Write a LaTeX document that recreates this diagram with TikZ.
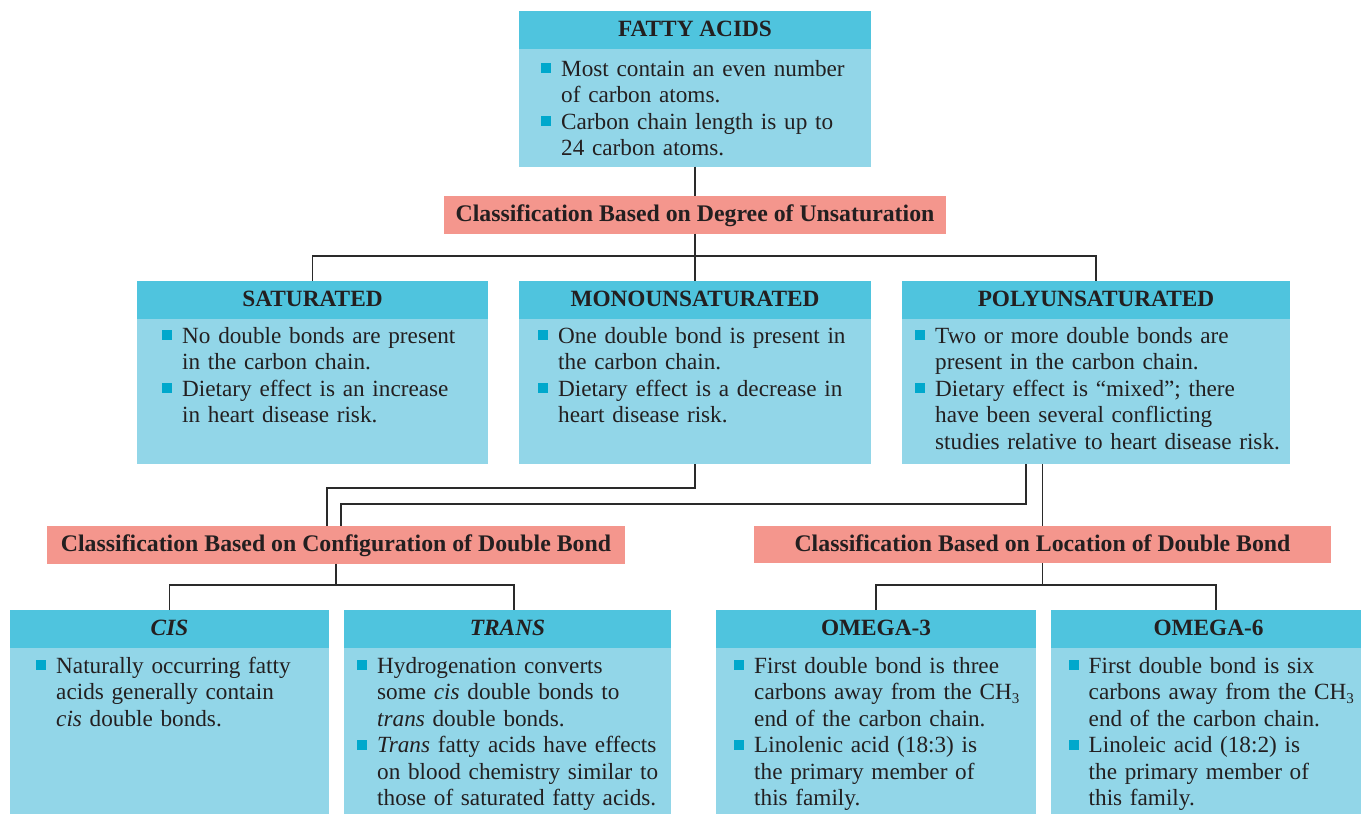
\documentclass[tikz,border=0pt]{standalone}
\usepackage{fontspec}
\setmainfont{Liberation Serif}
\definecolor{hdr}{HTML}{4FC4DE}
\definecolor{bdy}{HTML}{92D6E8}
\definecolor{pnk}{HTML}{F4968D}
\definecolor{bulc}{HTML}{00A8CC}
\definecolor{txt}{HTML}{231F20}
\definecolor{ln}{HTML}{2A2A2A}
\newcommand\bul{\leavevmode\llap{\textcolor{bulc}{\rule[3pt]{10pt}{10pt}}\hspace{10pt}}}
\newcommand\subthree{\raisebox{-4pt}{\fontsize{15}{15}\selectfont 3}}
\tikzset{
 box/.style={anchor=north west, inner sep=0pt, outer sep=0pt},
 hdrbox/.style={box, fill=hdr, minimum height=37.5pt, text height=17pt, text depth=3pt, font=\fontsize{23.3}{26}\selectfont\bfseries, text=txt},
 bodybox/.style={box, fill=bdy},
 classbox/.style={box, fill=pnk, minimum height=37.5pt, text height=17pt, text depth=3pt, font=\fontsize{23.8}{26}\selectfont\bfseries, text=txt},
 bodytext/.style={anchor=base west, inner sep=0pt, text width=420pt, align=left, font=\fontsize{23.2}{26.5}\selectfont, text=txt},
 conn/.style={draw=ln, line width=1.2pt},
}
\begin{document}
\begin{tikzpicture}[x=1pt,y=-1pt]
\useasboundingbox[fill=white] (0,0) rectangle (1361,814);
% top
\node[hdrbox, minimum width=352pt] (fa-h) at (519,11) {FATTY ACIDS};
\node[bodybox, minimum width=352pt, minimum height=118pt] (fa-b) at (519,48.5) {};
\node[bodytext] (fa-t) at (561,76) {\bul Most contain an even number\\of carbon atoms.\par\bul Carbon chain length is up to\\24 carbon atoms.};
\node[classbox, minimum width=502pt] (deg) at (444,196) {Classification Based on Degree of Unsaturation};
% second row
\node[hdrbox, minimum width=351pt] (sat-h) at (137,281) {SATURATED};
\node[bodybox, minimum width=351pt, minimum height=145.5pt] (sat-b) at (137,318.5) {};
\node[bodytext] (sat-t) at (182,343) {\bul No double bonds are present\\in the carbon chain.\par\bul Dietary effect is an increase\\in heart disease risk.};
\node[hdrbox, minimum width=352pt] (mono-h) at (519,281) {MONOUNSATURATED};
\node[bodybox, minimum width=352pt, minimum height=145.5pt] (mono-b) at (519,318.5) {};
\node[bodytext] (mono-t) at (558,343) {\bul One double bond is present in\\the carbon chain.\par\bul Dietary effect is a decrease in\\heart disease risk.};
\node[hdrbox, minimum width=388pt] (poly-h) at (902,281) {POLYUNSATURATED};
\node[bodybox, minimum width=388pt, minimum height=145.5pt] (poly-b) at (902,318.5) {};
\node[bodytext] (poly-t) at (935,343) {\bul Two or more double bonds are\\present in the carbon chain.\par\bul Dietary effect is “mixed”; there\\have been several conflicting\\studies relative to heart disease risk.};
% classification boxes
\node[classbox, minimum width=578pt] (cfg) at (47,526) {Classification Based on Configuration of Double Bond};
\node[classbox, minimum width=577pt] (loc) at (754,525.5) {Classification Based on Location of Double Bond};
% bottom row
\node[hdrbox, minimum width=319pt] (cis-h) at (10,610) {\textit{CIS}};
\node[bodybox, minimum width=319pt, minimum height=170pt] (cis-b) at (10,647.5) {};
\node[bodytext] (cis-t) at (56,673) {\bul Naturally occurring fatty\\acids generally contain\\\emph{cis} double bonds.};
\node[hdrbox, minimum width=327pt] (trans-h) at (344,610) {\textit{TRANS}};
\node[bodybox, minimum width=327pt, minimum height=170pt] (trans-b) at (344,647.5) {};
\node[bodytext] (trans-t) at (377,673) {\bul Hydrogenation converts\\some \emph{cis} double bonds to\\\emph{trans} double bonds.\par\bul \emph{Trans} fatty acids have effects\\on blood chemistry similar to\\those of saturated fatty acids.};
\node[hdrbox, minimum width=320pt] (om3-h) at (716,610) {OMEGA-3};
\node[bodybox, minimum width=320pt, minimum height=170pt] (om3-b) at (716,647.5) {};
\node[bodytext] (om3-t) at (754,673) {\bul First double bond is three\\carbons away from the CH\subthree\\end of the carbon chain.\par\bul Linolenic acid (18:3) is\\the primary member of\\this family.};
\node[hdrbox, minimum width=315pt] (om6-h) at (1051,610) {OMEGA-6};
\node[bodybox, minimum width=315pt, minimum height=170pt] (om6-b) at (1051,647.5) {};
\node[bodytext] (om6-t) at (1088.5,673) {\bul First double bond is six\\carbons away from the CH\subthree\\end of the carbon chain.\par\bul Linoleic acid (18:2) is\\the primary member of\\this family.};
% connectors
\draw[conn] (fa-b.south) -- (deg.north);
\draw[conn] (deg.south) -- (mono-h.north);
\draw[conn] (sat-h.north) -- ++(0,-25) -| (poly-h.north);
\draw[conn] (mono-b.south) -- ++(0,24) -| ([xshift=-9pt]cfg.north);
\draw[conn] ([xshift=-70pt]poly-b.south) -- ++(0,40) -| ([xshift=5pt]cfg.north);
\draw[conn] (loc.north) -- (loc.north |- poly-b.south);
\draw[conn] (cfg.south) -- ++(0,22);
\draw[conn] (cis-h.north) -- ++(0,-25) -| ([xshift=6.5pt]trans-h.north);
\draw[conn] (loc.south) -- ++(0,22);
\draw[conn] (om3-h.north) -- ++(0,-25) -| ([xshift=7.5pt]om6-h.north);
\end{tikzpicture}
\end{document}
